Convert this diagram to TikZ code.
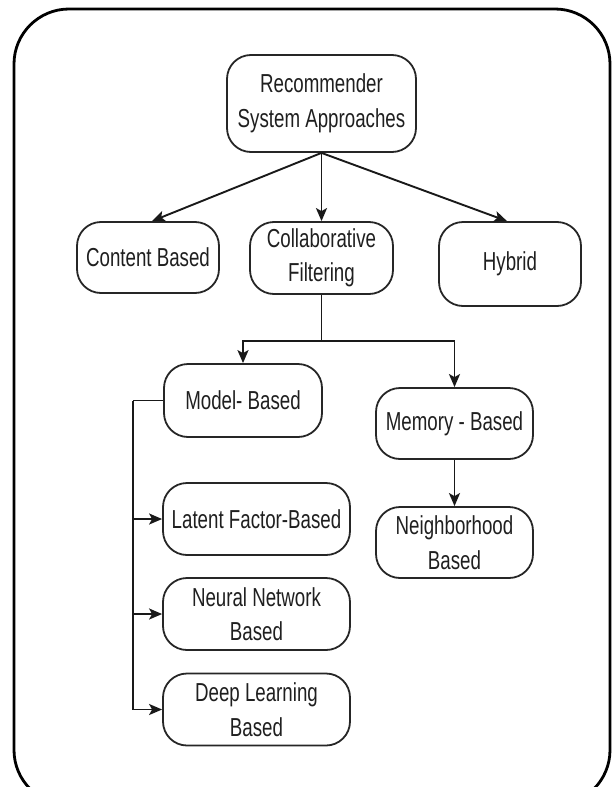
\documentclass[tikz,border=0pt]{standalone}
\usepackage{fontspec}
\setmainfont[FakeStretch=0.72]{Liberation Sans}
\usetikzlibrary{arrows.meta}
\begin{document}
\begin{tikzpicture}[x=1pt,y=-1pt,
  box/.style={draw=black!85, line width=1.8pt, rounded corners=24pt, align=center,
    inner sep=0pt, font=\fontsize{26}{34.5}\selectfont, text=black!88},
  conn/.style={line width=1.9pt, black!90},
  arr/.style={conn, -{Stealth[length=13pt,width=11pt,inset=3pt]}}]
\useasboundingbox (0,0) rectangle (614,787);
\draw[line width=2.8pt, rounded corners=55pt] (14,9) rectangle (610,805);

\node[box, minimum width=189pt, minimum height=97pt] (root) at (321.5,103.5) {Recommender\\System Approaches};
\node[box, minimum width=142pt, minimum height=71pt] (content) at (148,257.5) {Content Based};
\node[box, minimum width=143pt, minimum height=72pt] (collab) at (321.5,258) {Collaborative\\Filtering};
\node[box, minimum width=142pt, minimum height=84pt] (hybrid) at (510,264) {Hybrid};
\node[box, minimum width=158pt, minimum height=73pt] (model) at (243,400.5) {Model- Based};
\node[box, minimum width=157pt, minimum height=71pt] (memory) at (454.5,423.5) {Memory - Based};
\node[box, minimum width=157pt, minimum height=71pt] (neigh) at (454.5,542.5) {Neighborhood\\Based};
\node[box, minimum width=187pt, minimum height=72pt] (latent) at (256.5,519) {Latent Factor-Based};
\node[box, minimum width=187pt, minimum height=72pt] (neural) at (256.5,614) {Neural Network\\Based};
\node[box, minimum width=187pt, minimum height=72pt] (deep) at (256.5,709.5) {Deep Learning\\Based};

\draw[arr] (root.south) -- ([xshift=4pt]content.north);
\draw[arr] (root.south) -- (collab.north);
\draw[arr] (root.south) -- ([xshift=-3pt]hybrid.north);

\coordinate (split) at (321.5,341);
\draw[conn] (collab.south) -- (split);
\draw[arr] (split) -| (model.north);
\draw[arr] (split) -| (memory.north);
\draw[arr] (memory.south) -- (neigh.north);

\coordinate (bus) at (133,400.5);
\draw[conn] (model.west) -- (bus);
\draw[arr] (bus) |- (latent.west);
\draw[arr] (bus) |- (neural.west);
\draw[arr] (bus) |- (deep.west);
\end{tikzpicture}
\end{document}
